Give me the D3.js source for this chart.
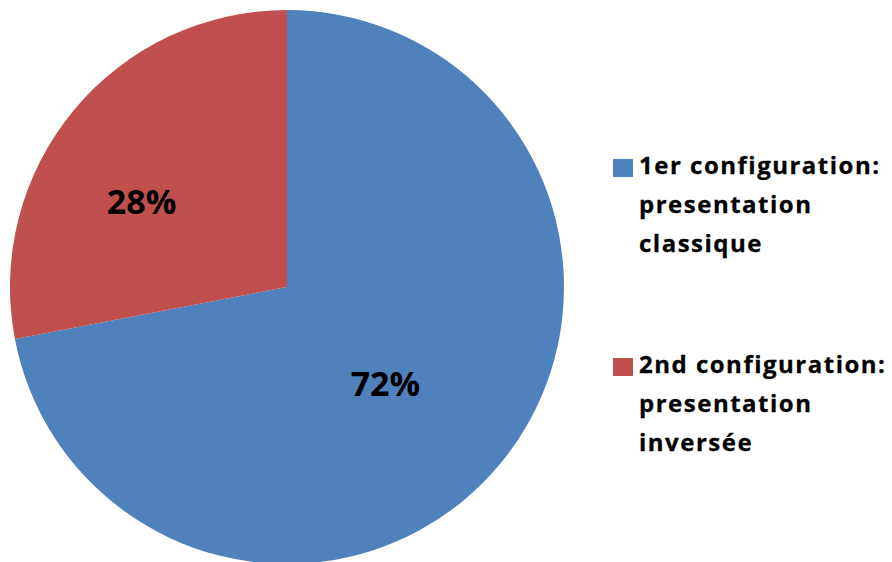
<!DOCTYPE html>
<html>
<head>
<meta charset="utf-8">
<script src="https://cdn.jsdelivr.net/npm/d3@7"></script>
<style>
  html, body { margin: 0; padding: 0; background: #ffffff; }
  svg { display: block; }
  text { font-family: "Open Sans", "Lato", "Liberation Sans", sans-serif; font-weight: 700; fill: #000; }
</style>
</head>
<body>
<svg id="chart" width="892" height="562"></svg>
<script>
// Share of participants per configuration
const categories = [
  ["1er configuration:", "presentation", "classique"],
  ["2nd configuration:", "presentation", "inversée"]
];
const values = [72, 28];
const colors = ["#4F81BD", "#C0504D"];

const width = 892, height = 562;
const cx = 287, cy = 287, radius = 277;

const svg = d3.select("#chart");

const pie = d3.pie().sort(null).value(d => d)(values);
const arc = d3.arc().innerRadius(0).outerRadius(radius);
const labelArc = d3.arc().innerRadius(radius * 0.55).outerRadius(radius * 0.55);
// small best-fit nudges so each label sits in the open part of its slice
const labelNudge = [[-19, 0], [-28, 12]];

const g = svg.append("g").attr("transform", `translate(${cx},${cy})`);

g.selectAll("path.slice")
  .data(pie)
  .join("path")
  .attr("class", "slice")
  .attr("d", arc)
  .attr("fill", (d, i) => colors[i]);

// Percentage labels inside each slice
const total = d3.sum(values);
g.selectAll("text.pct")
  .data(pie)
  .join("text")
  .attr("class", "pct")
  .attr("transform", (d, i) => {
    const [x, y] = labelArc.centroid(d);
    return `translate(${x + labelNudge[i][0]},${y + labelNudge[i][1]})`;
  })
  .attr("text-anchor", "middle")
  .attr("dy", "0.36em")
  .style("font-size", "34px")
  .text(d => Math.round(d.data / total * 100) + "%");

// Legend
const legend = svg.append("g").attr("transform", "translate(613,0)");
const legendTop = [159, 358];
const lineH = 39;

const items = legend.selectAll("g.item")
  .data(categories)
  .join("g")
  .attr("class", "item")
  .attr("transform", (d, i) => `translate(0,${legendTop[i]})`);

items.append("rect")
  .attr("width", 20)
  .attr("height", 18)
  .attr("fill", (d, i) => colors[i]);

items.each(function(lines) {
  const t = d3.select(this).append("text")
    .attr("x", 26)
    .attr("y", 15)
    .style("font-size", "24px")
    .style("letter-spacing", "1.5px")
    .style("stroke", "#000")
    .style("stroke-width", "0.3px");
  t.selectAll("tspan")
    .data(lines)
    .join("tspan")
    .attr("x", 26)
    .attr("dy", (d, i) => i === 0 ? 0 : lineH)
    .text(d => d);
});
</script>
</body>
</html>
